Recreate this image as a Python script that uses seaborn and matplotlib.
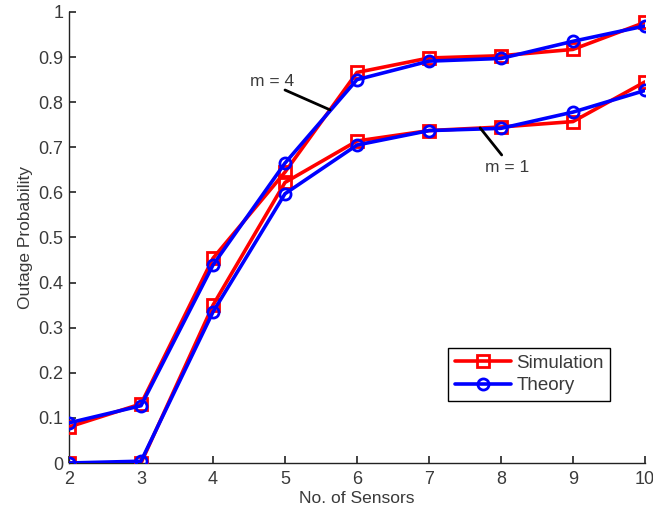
import matplotlib
matplotlib.use("Agg")
import matplotlib.pyplot as plt
import seaborn as sns

sensors = [2, 3, 4, 5, 6, 7, 8, 9, 10]
sim_m4 = [0.080, 0.131, 0.454, 0.645, 0.866, 0.898, 0.903, 0.917, 0.977]
theory_m4 = [0.089, 0.127, 0.439, 0.665, 0.850, 0.891, 0.897, 0.935, 0.969]
sim_m1 = [0.000, 0.000, 0.350, 0.622, 0.714, 0.737, 0.745, 0.757, 0.845]
theory_m1 = [0.000, 0.004, 0.335, 0.597, 0.705, 0.737, 0.742, 0.778, 0.826]
yticks = [0, 0.1, 0.2, 0.3, 0.4, 0.5, 0.6, 0.7, 0.8, 0.9, 1]
ytick_labels = ["0", "0.1", "0.2", "0.3", "0.4", "0.5", "0.6", "0.7", "0.8", "0.9", "1"]

sns.set_style("white")
plt.rcParams['font.family'] = ['Liberation Sans', 'DejaVu Sans']
txt = '#3a3a3a'

fig = plt.figure(figsize=(6.53, 5.12), dpi=100)
ax = fig.add_axes([0.1057, 0.0957, 0.8820, 0.8809])

red = '#ff0000'
blue = '#0000ff'
common = dict(linewidth=2.6, markersize=8, markeredgewidth=2.0, markerfacecolor='none')

sns.lineplot(x=sensors, y=sim_m4, ax=ax, color=red, marker='s', markeredgecolor=red,
             label='Simulation', zorder=3, **common)
sns.lineplot(x=sensors, y=theory_m4, ax=ax, color=blue, marker='o', markeredgecolor=blue,
             label='Theory', zorder=4, **common)
sns.lineplot(x=sensors, y=sim_m1, ax=ax, color=red, marker='s', markeredgecolor=red,
             zorder=3, **common)
sns.lineplot(x=sensors, y=theory_m1, ax=ax, color=blue, marker='o', markeredgecolor=blue,
             zorder=4, **common)

ax.set_xlim(2, 10)
ax.set_ylim(0, 1)
ax.set_xticks(sensors)
ax.set_yticks(yticks)
ax.set_yticklabels(ytick_labels)
ax.tick_params(left=True, bottom=True, direction='in', length=5, width=1.2,
               colors='#222222', labelsize=13, labelcolor=txt)
ax.tick_params(axis='x', pad=6)
ax.tick_params(axis='y', pad=4)
for s in ['top', 'right']:
    ax.spines[s].set_visible(False)
for s in ['left', 'bottom']:
    ax.spines[s].set_color('#222222')
    ax.spines[s].set_linewidth(1.0)

ax.set_xlabel('No. of Sensors', fontsize=12.5, color=txt, labelpad=2)
ax.set_ylabel('Outage Probability', fontsize=12.5, color=txt, labelpad=4)

# annotations
ax.plot([5.0, 5.625], [0.827, 0.783], color='black', linewidth=2, zorder=5)
ax.text(4.82, 0.845, 'm = 4', fontsize=12.5, color=txt, ha='center', va='center')
ax.plot([7.71, 8.01], [0.743, 0.683], color='black', linewidth=2, zorder=5)
ax.text(8.08, 0.656, 'm = 1', fontsize=12.5, color=txt, ha='center', va='center')

leg = ax.legend(loc='upper left', bbox_to_anchor=(0.658, 0.255), fontsize=13.5,
                frameon=True, fancybox=False, edgecolor='black', framealpha=1,
                borderpad=0.35, handlelength=3.0, handletextpad=0.3, labelspacing=0.3,
                borderaxespad=0)
leg.get_frame().set_linewidth(1.0)
for t in leg.get_texts():
    t.set_color(txt)

fig.savefig('out.png', dpi=100)
